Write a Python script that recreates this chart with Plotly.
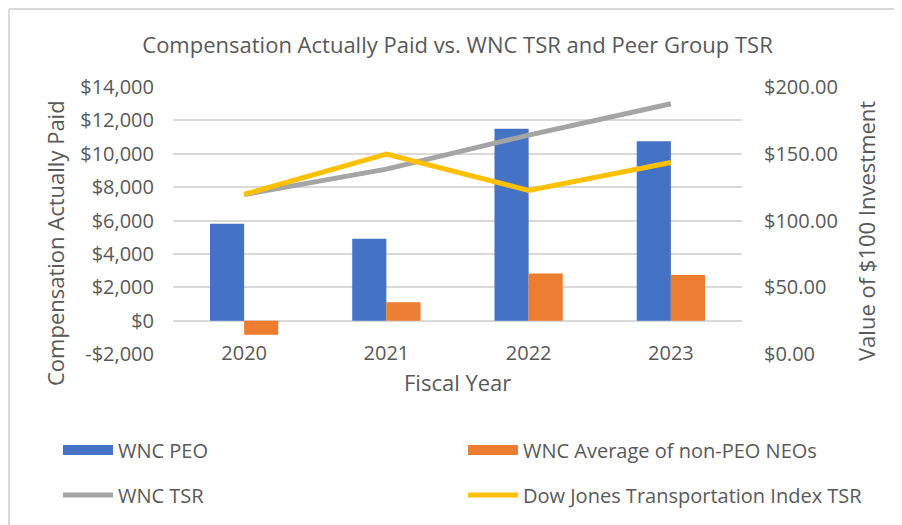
import plotly.graph_objects as go

years = ["2020", "2021", "2022", "2023"]
peo_cap = [5800, 4900, 11500, 10750]
neo_avg_cap = [-850, 1100, 2820, 2730]
wnc_tsr = [119.5, 138.5, 164.0, 187.5]
djt_tsr = [119.5, 149.8, 122.5, 143.5]

left_tickvals = [-2000, 0, 2000, 4000, 6000, 8000, 10000, 12000, 14000]
left_ticktext = ["-$2,000", "$0", "$2,000", "$4,000", "$6,000", "$8,000", "$10,000", "$12,000", "$14,000"]
right_tickvals = [0, 50, 100, 150, 200]
right_ticktext = ["$0.00", "$50.00", "$100.00", "$150.00", "$200.00"]

FONT = "Open Sans"
TXT = "#595959"
GRID = "#D9D9D9"
BLUE, ORANGE, GRAY, GOLD = "#4472C4", "#ED7D31", "#A5A5A5", "#FFC000"

# page has an 8px body margin: figure pixel = screen pixel - 8
OFF = 8
W, H = 894, 517
L, R, T, B = 165, 160, 79, 171
pw, ph = W - L - R, H - T - B


def sx(px):
    return (px - OFF - L) / pw


def sy(py):
    return (H - B - (py - OFF)) / ph


fig = go.Figure()
fig.add_trace(go.Bar(x=years, y=peo_cap, name="WNC PEO", marker=dict(color=BLUE, line=dict(width=0)),
                     yaxis="y", showlegend=False))
fig.add_trace(go.Bar(x=years, y=neo_avg_cap, name="WNC Average of non-PEO NEOs",
                     marker=dict(color=ORANGE, line=dict(width=0)), yaxis="y", showlegend=False))
fig.add_trace(go.Scatter(x=years, y=wnc_tsr, name="WNC TSR", mode="lines",
                         line=dict(color=GRAY, width=5), yaxis="y2", legend="legend3"))
fig.add_trace(go.Scatter(x=years, y=djt_tsr, name="Dow Jones Transportation Index TSR", mode="lines",
                         line=dict(color=GOLD, width=5), yaxis="y2", legend="legend4"))
# legend swatches for the bar series (wide rectangles as in the reference)
fig.add_trace(go.Scatter(x=[None], y=[None], name="WNC PEO", mode="lines",
                         line=dict(color=BLUE, width=13), legend="legend", hoverinfo="skip"))
fig.add_trace(go.Scatter(x=[None], y=[None], name="WNC Average of non-PEO NEOs", mode="lines",
                         line=dict(color=ORANGE, width=13), legend="legend2", hoverinfo="skip"))

LEG_FONT = dict(family=FONT, size=20, color=TXT)


def leg(x_screen, y_screen):
    return dict(orientation="h", x=sx(x_screen), xanchor="left", y=sy(y_screen), yanchor="middle",
                itemwidth=50, font=LEG_FONT, bgcolor="rgba(0,0,0,0)", borderwidth=0,
                itemclick=False, itemdoubleclick=False)


fig.update_layout(
    width=W, height=H,
    margin=dict(l=L, r=R, t=T, b=B, pad=0, autoexpand=False),
    paper_bgcolor="white", plot_bgcolor="white",
    font=dict(family=FONT, color=TXT, size=20),
    barmode="group", bargap=0.52, bargroupgap=0,
    showlegend=True,
    title=dict(text="Compensation Actually Paid vs. WNC TSR and Peer Group TSR",
               xref="paper", x=0.5, xanchor="center", yref="container", y=1 - (45 - OFF) / H,
               yanchor="middle", font=dict(family=FONT, size=22, color=TXT)),
    xaxis=dict(type="category", showgrid=False, showline=False, zeroline=False,
               ticks="", tickfont=dict(size=20, color=TXT), ticklabelstandoff=-15),
    yaxis=dict(range=[-2000, 14000], tickvals=left_tickvals, ticktext=left_ticktext,
               showgrid=True, gridcolor=GRID, gridwidth=1.5, zeroline=False,
               showline=False, ticks="", tickfont=dict(size=20, color=TXT),
               ticklabelstandoff=18),
    yaxis2=dict(range=[0, 200], overlaying="y", side="right", tickvals=right_tickvals,
                ticktext=right_ticktext, showgrid=False, zeroline=False, showline=False,
                ticks="", tickfont=dict(size=20, color=TXT), ticklabelstandoff=21),
    legend=leg(58, 450),
    legend2=leg(463, 450),
    legend3=leg(58, 495),
    legend4=leg(463, 495),
    annotations=[
        dict(text="Compensation Actually Paid", xref="paper", yref="paper",
             x=sx(55), y=sy(243), textangle=-90, showarrow=False,
             xanchor="center", yanchor="middle", font=dict(size=22, color=TXT)),
        dict(text="Value of $100 Investment", xref="paper", yref="paper",
             x=sx(866), y=sy(231), textangle=-90, showarrow=False,
             xanchor="center", yanchor="middle", font=dict(size=22, color=TXT)),
        dict(text="Fiscal Year", xref="paper", yref="paper",
             x=0.5, y=sy(382), showarrow=False,
             xanchor="center", yanchor="middle", font=dict(size=22, color=TXT)),
    ],
    shapes=[
        dict(type="line", xref="paper", yref="paper", x0=sx(9), x1=sx(9),
             y0=sy(9), y1=sy(540), line=dict(color=GRID, width=2)),
        dict(type="line", xref="paper", yref="paper", x0=sx(9), x1=sx(910),
             y0=sy(9), y1=sy(9), line=dict(color=GRID, width=2)),
    ],
)

fig.write_html("out.html")
